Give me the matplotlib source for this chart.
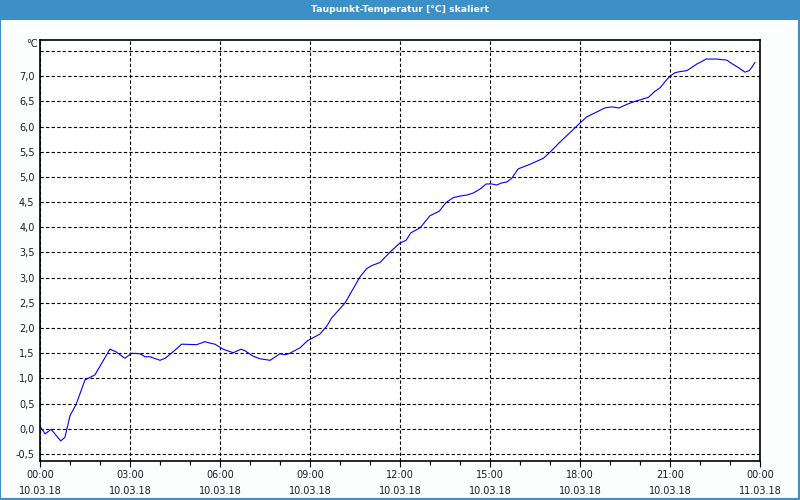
import pandas as pd
import matplotlib
matplotlib.use("Agg")
import matplotlib.pyplot as plt
import matplotlib.dates as mdates
from matplotlib.patches import Rectangle
from matplotlib.ticker import FuncFormatter, MultipleLocator

# Stunden ab 10.03.18 00:00 und Taupunkt in °C
hours = [0.0, 0.17, 0.37, 0.69, 0.83, 1.0, 1.2, 1.5, 1.83, 2.33, 2.53, 2.83,
         3.06, 3.33, 3.5, 3.67, 4.0, 4.17, 4.44, 4.72, 5.22, 5.5, 5.67, 5.83,
         6.11, 6.44, 6.7, 6.83, 7.11, 7.33, 7.67, 8.0, 8.17, 8.33, 8.67, 8.92,
         9.33, 9.56, 9.72, 10.17, 10.67, 10.89, 11.06, 11.33, 11.67, 12.0,
         12.2, 12.36, 12.67, 13.0, 13.31, 13.53, 13.78, 14.0, 14.22, 14.44,
         14.67, 14.87, 15.06, 15.22, 15.39, 15.56, 15.72, 15.94, 16.33, 16.78,
         17.0, 17.33, 17.72, 18.0, 18.22, 18.56, 18.83, 19.06, 19.3, 19.56,
         19.83, 20.06, 20.28, 20.5, 20.67, 20.89, 21.02, 21.17, 21.33, 21.56,
         21.72, 21.89, 22.06, 22.2, 22.56, 22.69, 22.89, 23.06, 23.28, 23.5,
         23.64, 23.72, 23.83]
taupunkt = [0.05, -0.10, -0.01, -0.24, -0.17, 0.26, 0.48, 0.97, 1.07, 1.58,
            1.53, 1.40, 1.50, 1.49, 1.43, 1.43, 1.36, 1.40, 1.53, 1.68, 1.67,
            1.73, 1.70, 1.68, 1.58, 1.51, 1.58, 1.55, 1.44, 1.39, 1.36, 1.49,
            1.47, 1.50, 1.61, 1.75, 1.88, 2.04, 2.20, 2.50, 3.02, 3.18, 3.24,
            3.30, 3.51, 3.69, 3.74, 3.89, 3.99, 4.23, 4.32, 4.49, 4.59, 4.62,
            4.64, 4.68, 4.76, 4.86, 4.86, 4.84, 4.88, 4.90, 4.97, 5.16, 5.25,
            5.37, 5.49, 5.69, 5.91, 6.07, 6.19, 6.29, 6.37, 6.39, 6.37, 6.44,
            6.50, 6.54, 6.58, 6.70, 6.77, 6.93, 7.01, 7.07, 7.09, 7.11, 7.17,
            7.24, 7.29, 7.34, 7.34, 7.33, 7.32, 7.25, 7.17, 7.08, 7.11, 7.17,
            7.27]

title = "Taupunkt-Temperatur [°C] skaliert"
start = pd.Timestamp("2018-03-10 00:00")
end = pd.Timestamp("2018-03-11 00:00")
times = start + pd.to_timedelta(hours, unit="h")

blue = "#3d90c7"
txt = "#1a1a2e"

fig = plt.figure(figsize=(8, 5), dpi=100, facecolor="#fcfefd")
fig.patches.append(Rectangle((0, 0.96), 1, 0.04, transform=fig.transFigure,
                             facecolor=blue, edgecolor="none"))
fig.patches.append(Rectangle((0.0006, 0.002), 0.998, 0.997, transform=fig.transFigure,
                             facecolor="none", edgecolor=blue, linewidth=1.5))
fig.text(0.5, 0.981, title, color="white", ha="center", va="center",
         fontsize=6.7, fontweight="bold")

ax = fig.add_axes([0.05, 0.0786, 0.9, 0.8408])
ax.set_facecolor("white")
ax.plot(times, taupunkt, color="#0000ff", linewidth=0.8)

ax.set_xlim(start, end)
ax.set_ylim(-0.633, 7.712)
ax.yaxis.set_major_locator(MultipleLocator(0.5))
# 7,5 hat kein Label, dort steht die Einheit
ax.yaxis.set_major_formatter(FuncFormatter(
    lambda v, p: "" if v > 7.25 else f"{v:.1f}".replace(".", ",")))
ax.xaxis.set_major_locator(mdates.HourLocator(interval=3))
ax.xaxis.set_minor_locator(mdates.HourLocator())
ax.xaxis.set_major_formatter(mdates.DateFormatter("%H:%M\n%d.%m.%y"))

ax.grid(True, which="major", color="black", linestyle=(0, (3, 2)), linewidth=0.8)
for s in ax.spines.values():
    s.set_color("black")
    s.set_linewidth(1.2)

ax.tick_params(axis="x", which="major", length=4, width=0.8, pad=3,
               labelsize=7, labelcolor=txt)
ax.tick_params(axis="x", which="minor", length=3, width=0.8)
ax.tick_params(axis="y", length=0, pad=4, labelsize=7, labelcolor=txt)
for lab in ax.get_xticklabels():
    lab.set_linespacing(1.75)

fig.text(0.047, 0.912, "°C", ha="right", va="center", fontsize=7, color=txt)

fig.savefig("out.png", dpi=100, facecolor=fig.get_facecolor())
